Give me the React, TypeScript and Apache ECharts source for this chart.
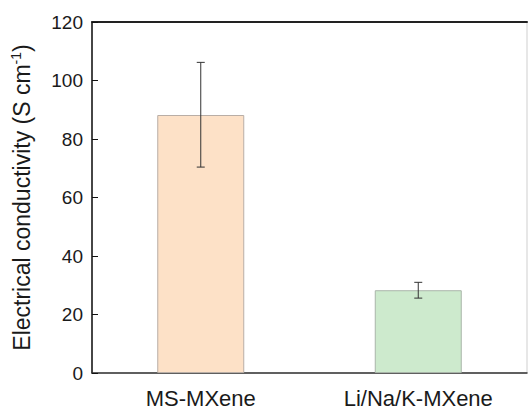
import React, { useEffect, useRef } from "react";
import * as echarts from "echarts";

const categories = ["MS-MXene", "Li/Na/K-MXene"];
const values = [88.2, 28.3];
const errLow = [70.4, 25.6];
const errHigh = [106.2, 31.0];
const yTicks = [0, 20, 40, 60, 80, 100, 120];

const FONT = "Liberation Sans, Arial, sans-serif";

export default function App() {
  const ref = useRef<HTMLDivElement>(null);
  useEffect(() => {
    document.body.style.margin = "0";
    const chart = echarts.init(ref.current!, null, { renderer: "svg" });
    const barColors = [
      { fill: "#fde1c7", border: "#b9aea6" },
      { fill: "#cdeacd", border: "#a9b5a9" },
    ];
    chart.setOption({
      animation: false,
      grid: {
        left: 92,
        top: 22,
        right: 1,
        bottom: 38,
        show: true,
        borderColor: "#cfcfcf",
        borderWidth: 1,
      },
      xAxis: [
        {
          type: "category",
          data: categories,
          boundaryGap: true,
          axisLine: { lineStyle: { color: "#333", width: 1.5 } },
          axisTick: { show: false },
          axisLabel: { fontSize: 22, color: "#1a1a1a", fontFamily: FONT, margin: 14 },
        },
        {
          type: "category",
          data: categories,
          position: "top",
          axisLine: { lineStyle: { color: "#222", width: 2 } },
          axisTick: { show: false },
          axisLabel: { show: false },
        },
      ],
      yAxis: {
        type: "value",
        min: yTicks[0],
        max: yTicks[yTicks.length - 1],
        interval: 20,
        axisLine: { show: true, lineStyle: { color: "#111", width: 1.5 } },
        axisTick: { show: true, inside: true, length: 6, lineStyle: { color: "#111" } },
        splitLine: { show: false },
        axisLabel: { fontSize: 19, color: "#1a1a1a", fontFamily: FONT, margin: 9 },
        name: "{a|Electrical conductivity (S cm}{s|-1}{a|)}",
        nameLocation: "middle",
        nameGap: 57,
        nameRotate: 90,
        nameTextStyle: {
          fontFamily: FONT,
          rich: {
            a: { fontSize: 23, color: "#1a1a1a", fontFamily: FONT, lineHeight: 26 },
            s: { fontSize: 14, color: "#1a1a1a", fontFamily: FONT, lineHeight: 26, padding: [0, 0, 12, 0] },
          },
        },
      },
      series: [
        {
          type: "bar",
          barWidth: "40%",
          data: values.map((v, i) => ({
            value: v,
            itemStyle: { color: barColors[i].fill, borderColor: barColors[i].border, borderWidth: 1 },
          })),
        },
        {
          type: "custom",
          data: categories.map((_, i) => [i, errLow[i], errHigh[i]]),
          renderItem: (params: any, api: any) => {
            const x = api.value(0);
            const lo = api.coord([x, api.value(1)]);
            const hi = api.coord([x, api.value(2)]);
            const w = 4;
            const style = { stroke: "#333", lineWidth: 1 };
            return {
              type: "group",
              children: [
                { type: "line", shape: { x1: lo[0], y1: lo[1], x2: hi[0], y2: hi[1] }, style },
                { type: "line", shape: { x1: lo[0] - w, y1: lo[1], x2: lo[0] + w, y2: lo[1] }, style },
                { type: "line", shape: { x1: hi[0] - w, y1: hi[1], x2: hi[0] + w, y2: hi[1] }, style },
              ],
            };
          },
          z: 5,
        },
      ],
    });
    return () => chart.dispose();
  }, []);
  return <div ref={ref} style={{ width: 528, height: 411 }} />;
}
